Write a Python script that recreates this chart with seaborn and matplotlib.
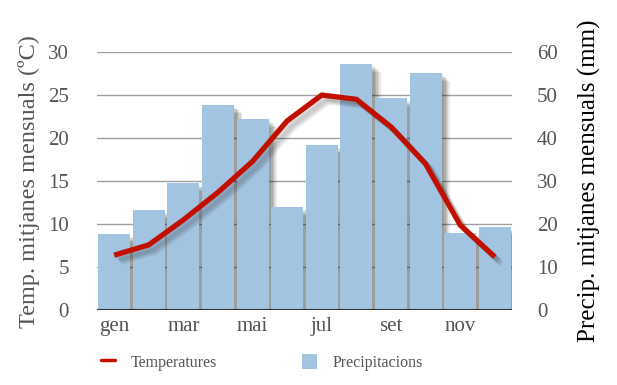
import matplotlib
matplotlib.use("Agg")
import matplotlib.pyplot as plt
import matplotlib.patheffects as pe
from matplotlib.lines import Line2D
from matplotlib.patches import Patch
import seaborn as sns
import pandas as pd

months = ["gen", "feb", "mar", "abr", "mai", "jun", "jul", "ago", "set", "oct", "nov", "des"]
temperatures = [6.4, 7.6, 10.5, 13.7, 17.3, 22.0, 25.0, 24.5, 21.3, 17.0, 9.9, 6.2]
precipitation = [17.7, 23.3, 29.6, 47.7, 44.5, 24.0, 38.4, 57.3, 49.2, 55.2, 18.0, 19.4]
shown_ticks = ["gen", "mar", "mai", "jul", "set", "nov"]
temp_ticks = [0, 5, 10, 15, 20, 25, 30]
precip_ticks = [0, 10, 20, 30, 40, 50, 60]

sns.set_theme(style="white")
plt.rcParams["font.family"] = ["Liberation Serif", "DejaVu Serif"]

gray = "#555555"
bar_color = "#a3c4e0"
line_color = "#c01000"

fig = plt.figure(figsize=(6.17, 3.85), dpi=100)
ax1 = fig.add_axes([0.157, 0.194, 0.673, 0.671])
ax2 = ax1.twinx()
ax1.set_zorder(ax2.get_zorder() + 1)
ax1.patch.set_visible(False)

df = pd.DataFrame({"month": months, "temp": temperatures, "precip": precipitation,
                   "x": list(range(len(months)))})

sns.barplot(data=df, x="month", y="precip", ax=ax2, color=bar_color, width=0.92,
            saturation=1, order=months, linewidth=0, edgecolor="none")

bar_shadow = [pe.SimplePatchShadow(offset=(k, -k), shadow_rgbFace="black", alpha=0.09)
              for k in (6, 5, 4, 3, 2)] + [pe.Normal()]
for p in ax2.patches:
    p.set_path_effects(bar_shadow)
    p.set_zorder(3)

sns.lineplot(data=df, x="x", y="temp", ax=ax1, color=line_color, linewidth=3.8,
             solid_capstyle="butt")
line_shadow = [pe.SimpleLineShadow(offset=(k, -k), shadow_color="black", alpha=0.08)
               for k in (5, 4, 3, 2)] + [pe.Normal()]
for l in ax1.lines:
    l.set_path_effects(line_shadow)

ax1.set_xlim(-0.5, 11.5)
ax2.set_xlim(-0.5, 11.5)
ax1.set_ylim(0, 30)
ax2.set_ylim(0, 60)

ax1.set_yticks(temp_ticks)
ax2.set_yticks(precip_ticks)
ax1.set_xticks([months.index(m) for m in shown_ticks])
ax1.set_xticklabels(shown_ticks)

ax2.grid(axis="y", color="#a0a0a0", linewidth=1)
ax2.set_axisbelow(True)
ax1.grid(False)

for ax in (ax1, ax2):
    for s in ["top", "left", "right", "bottom"]:
        ax.spines[s].set_visible(False)
    ax.tick_params(length=0, labelsize=15, colors=gray)
    ax.set_xlabel("")
base = ax1.axhline(0, color="#333333", linewidth=2.2, zorder=5)
base.set_path_effects([pe.SimpleLineShadow(offset=(k, -k), shadow_color="black", alpha=0.08)
                       for k in (5, 4, 3, 2)] + [pe.Normal()])

ax1.tick_params(axis="y", pad=20)
ax2.tick_params(axis="y", pad=18)
ax1.tick_params(axis="x", pad=5)
ax1.set_ylabel("Temp. mitjanes mensuals (ºC)", color=gray, fontsize=17.5, labelpad=6)
ax2.set_ylabel("Precip. mitjanes mensuals (mm)", color="black", fontsize=18, labelpad=14)

handles = [Line2D([0], [0], color=line_color, linewidth=2.5),
           Patch(facecolor=bar_color, edgecolor="none")]
leg = fig.legend(handles, ["Temperatures", "Precipitacions"], loc="lower left",
                 bbox_to_anchor=(0.14, 0.0), ncol=2, frameon=False, fontsize=11.5,
                 handlelength=0.9, handleheight=1.1, columnspacing=5.3, handletextpad=1.0)
for t in leg.get_texts():
    t.set_color(gray)

fig.savefig("out.png", dpi=100)
